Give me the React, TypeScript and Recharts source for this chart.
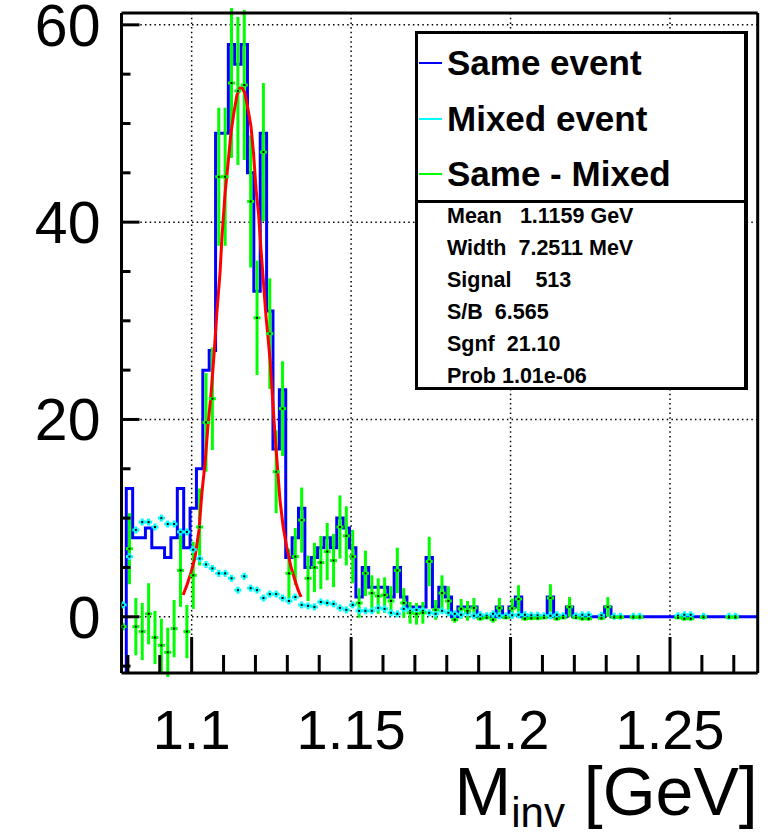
import React from 'react';
import {
  ComposedChart,
  Line,
  Scatter,
  ErrorBar,
  XAxis,
  YAxis,
  CartesianGrid,
  ReferenceLine,
  Legend,
} from 'recharts';

const FONT = '"Liberation Sans", Arial, Helvetica, sans-serif';

// axis ranges (frame of the ROOT pad)
const X_MIN = 1.078;
const X_MAX = 1.2775;
const Y_MIN = -5.7;
const Y_MAX = 61.2;

// histogram binning: 100 bins of 2 MeV
const BIN_LO = 1.0775;
const BIN_W = 0.002;

// "Same event" counts per bin
const SAME_EVENT = [
  0, 13, 8, 8, 9, 7, 7, 6, 8, 13,
  7, 11, 15, 25, 27, 49, 49, 58, 56, 58,
  45, 33, 49, 31, 17, 23, 6, 8, 11, 5,
  6, 7, 8, 7, 10, 9, 7, 2, 5, 3,
  3, 3, 2, 5, 2, 1, 1, 1, 6, 1,
  3, 2, 0, 1, 1, 1, 0, 0, 0, 1,
  0, 1, 2, 0, 0, 0, 0, 2, 0, 0,
  1, 0, 0, 0, 0, 0, 1, 0, 0, 0,
  0, 0, 0, 0, 0, 0, 0, 0, 0, 0,
  0, 0, 0, 0, 0, 0, 0, 0, 0, 0,
];

// "Mixed event" (normalised), null = empty bin
const MIXED_EVENT = [
  1.2, 6.1, 8.8, 9.6, 9.6, 9.1, 10.0, 9.4, 9.4, 8.6,
  8.6, 6.8, 5.9, 5.3, 4.9, 4.4, 4.4, 3.9, 2.7, 4.1,
  2.9, 2.7, 1.9, 2.3, 2.3, 1.9, 1.6, 2.0, 1.2, 1.1,
  1.0, 1.5, 1.4, 1.3, 0.9, 0.7, 1.2, 0.6, 0.6, 0.6,
  0.9, 0.8, 0.4, 0.3, 0.8, 0.6, 0.7, 0.6, 0.4, 0.3,
  0.6, 0.4, 0.3, 0.2, 0.4, 0.1, 0.2, 0.1, 0.3, 0.1,
  0.1, 0.15, 0.2, 0.2, 0.15, 0.15, 0.1, 0.1, 0.2, 0.1,
  null, 0.1, 0.2, 0.2, null, 0.15, null, 0.05, 0.05, null,
  0.05, 0.05, null, null, null, null, null, 0.1, 0.2, 0.2,
  null, 0.05, null, null, null, 0.05, 0.05, null, null, null,
];

// "Same - Mixed" and its errors
const SAME_MINUS_MIXED = [
  -1.0, 6.9, -1.0, -1.5, 0.3, -2.1, -2.9, -3.6, -1.2, 4.7,
  -1.5, 4.2, 9.1, 19.7, 22.1, 44.6, 44.6, 54.1, 53.3, 53.9,
  42.1, 30.3, 47.1, 28.7, 14.7, 21.1, 4.4, 6.1, 9.8, 3.9,
  5.0, 5.5, 6.6, 5.7, 9.1, 8.2, 6.1, 1.4, 4.4, 2.4,
  2.1, 2.2, 1.6, 4.7, 1.4, 0.4, 0.3, 0.4, 5.6, 0.7,
  2.4, 1.6, -0.3, 0.8, 0.6, 0.9, -0.2, -0.1, -0.3, 0.9,
  -0.1, 0.85, 1.8, -0.2, -0.15, -0.15, -0.1, 1.9, -0.2, -0.1,
  1.0, -0.1, -0.2, -0.2, null, -0.15, 1.0, -0.05, -0.05, null,
  -0.05, -0.05, null, null, null, null, null, -0.1, -0.2, -0.2,
  null, -0.05, null, null, null, -0.05, -0.05, null, null, null,
];
const SAME_MINUS_MIXED_ERR = [
  0.4, 3.6, 2.9, 2.9, 3.1, 2.7, 2.7, 2.5, 2.9, 3.7,
  2.7, 3.4, 3.9, 5.0, 5.2, 7.0, 7.0, 7.6, 7.5, 7.6,
  6.7, 5.8, 7.0, 5.6, 4.2, 4.8, 2.5, 2.9, 3.3, 2.3,
  2.5, 2.7, 2.9, 2.7, 3.2, 3.0, 2.7, 1.5, 2.3, 1.8,
  1.8, 1.8, 1.5, 2.3, 1.5, 1.1, 1.1, 1.1, 2.5, 1.0,
  1.8, 1.5, 0.3, 1.0, 1.0, 1.0, 0.2, 0.1, 0.3, 1.0,
  0.1, 1.0, 1.4, 0.2, 0.2, 0.2, 0.1, 1.4, 0.2, 0.1,
  1.0, 0.1, 0.2, 0.2, null, 0.2, 1.0, 0.05, 0.05, null,
  0.05, 0.05, null, null, null, null, null, 0.1, 0.2, 0.2,
  null, 0.05, null, null, null, 0.05, 0.05, null, null, null,
];

// fit curve
const FIT_X = [
  1.0973, 1.0985, 1.0998, 1.101, 1.1023, 1.1032, 1.1042, 1.1051, 1.1061, 1.107,
  1.1079, 1.1089, 1.1095, 1.1105, 1.1114, 1.1123, 1.1133, 1.1142, 1.1152, 1.1158,
  1.1167, 1.1177, 1.1186, 1.1194, 1.1202, 1.121, 1.1217, 1.1225, 1.1233, 1.1239,
  1.1246, 1.1252, 1.1261, 1.1269, 1.1277, 1.1287, 1.1298, 1.1311, 1.1324, 1.1334,
  1.1343,
];
const FIT_Y = [
  2.2, 3.2, 4.5, 5.9, 8.8, 12.5, 15.6, 19.3, 22.7, 26.5,
  30.8, 34.9, 38.5, 43.0, 45.9, 49.0, 51.2, 52.9, 53.6, 53.6,
  53.1, 51.4, 49.7, 47.0, 43.3, 40.8, 37.4, 34.0, 30.5, 28.5,
  26.0, 23.0, 18.6, 15.2, 11.8, 9.1, 7.1, 5.1, 3.7, 2.7,
  2.0,
];

const X_TICKS = [
  1.08, 1.09, 1.1, 1.11, 1.12, 1.13, 1.14, 1.15, 1.16, 1.17,
  1.18, 1.19, 1.2, 1.21, 1.22, 1.23, 1.24, 1.25, 1.26, 1.27,
];
const X_LABELS = [1.1, 1.15, 1.2, 1.25];
const Y_TICKS = [-5, 0, 5, 10, 15, 20, 25, 30, 35, 40, 45, 50, 55, 60];
const Y_LABELS = [0, 20, 40, 60];

const LEGEND_NAMES = ['Same event', 'Mixed event', 'Same - Mixed'];
const LEGEND_COLORS = ['#0000ff', '#00ffff', '#00ff00'];
const FIT_STATS = [
  'Mean   1.1159 GeV',
  'Width  7.2511 MeV',
  'Signal    513',
  'S/B  6.565',
  'Sgnf  21.10',
  'Prob 1.01e-06',
];

const binCenter = (i: number) => BIN_LO + (i + 0.5) * BIN_W;

// ROOT draws the outline from the frame bottom at the first filled bin
const sameSteps: { x: number; y: number }[] = [{ x: BIN_LO + BIN_W, y: Y_MIN }];
SAME_EVENT.forEach((v, i) => {
  if (i > 0) sameSteps.push({ x: BIN_LO + i * BIN_W, y: v });
});
sameSteps.push({ x: BIN_LO + SAME_EVENT.length * BIN_W, y: SAME_EVENT[SAME_EVENT.length - 1] });

const mixedPoints = MIXED_EVENT.flatMap((v, i) => (v == null ? [] : [{ x: binCenter(i), y: v }]));
const diffPoints = SAME_MINUS_MIXED.flatMap((v, i) =>
  v == null ? [] : [{ x: binCenter(i), y: v, err: SAME_MINUS_MIXED_ERR[i] }]
);
const fitPoints = FIT_X.map((x, i) => ({ x, y: FIT_Y[i] }));

function YTick({ x, y, payload }: any) {
  const major = Y_LABELS.includes(payload.value);
  return (
    <g>
      <line x1={x} x2={x + (major ? 18 : 9)} y1={y} y2={y} stroke="#000" strokeWidth={3} />
      {major && (
        <text x={x - 21} y={y + 21} textAnchor="end" fontSize={59} fill="#000">
          {payload.value}
        </text>
      )}
    </g>
  );
}

function XTick({ x, y, payload }: any) {
  const major = X_LABELS.includes(payload.value);
  return (
    <g>
      <line x1={x} x2={x} y1={y} y2={y - (major ? 36 : 18)} stroke="#000" strokeWidth={3} />
      {major && (
        <text x={x} y={y + 76} textAnchor="middle" fontSize={56} fill="#000">
          {payload.value}
        </text>
      )}
    </g>
  );
}

function AxisTitle({ viewBox }: any) {
  return (
    <text
      x={viewBox.x + viewBox.width}
      y={viewBox.y + 142}
      textAnchor="end"
      fontSize={68}
      fill="#000"
      style={{ whiteSpace: 'pre' }}
    >
      M<tspan fontSize={42} dy={12}>inv</tspan>
      <tspan dy={-12}> [GeV]</tspan>
    </text>
  );
}

// green: short horizontal bar with a black dot in the middle
const DiffMarker = ({ cx, cy }: any) => (
  <g>
    <rect x={cx - 3.5} y={cy - 1.5} width={7} height={3} fill="#00ff00" />
    <rect x={cx - 1} y={cy - 1} width={2} height={2} fill="#000" />
  </g>
);

// cyan: small cross with a black dot
const MixedMarker = ({ cx, cy }: any) => (
  <g>
    <rect x={cx - 3.5} y={cy - 1.5} width={7} height={3} fill="#00ffff" />
    <rect x={cx - 1.5} y={cy - 3.5} width={3} height={7} fill="#00ffff" />
    <rect x={cx - 1} y={cy - 1} width={2} height={2} fill="#000" />
  </g>
);

function StatsBox() {
  return (
    <div
      style={{
        position: 'relative',
        width: 333,
        height: 359,
        boxSizing: 'border-box',
        border: '3px solid #000',
        borderRightWidth: 4,
        background: '#fff',
        fontFamily: FONT,
        fontWeight: 700,
        color: '#000',
      }}
    >
      {LEGEND_NAMES.map((name, i) => (
        <div key={name} style={{ position: 'absolute', left: 0, top: 9 + i * 55.5, height: 40, width: 320 }}>
          <div style={{ position: 'absolute', left: 1, top: 19, width: 23, height: 2, background: LEGEND_COLORS[i] }} />
          <div style={{ position: 'absolute', left: 29, top: 0, lineHeight: '40px', fontSize: 35, whiteSpace: 'pre' }}>
            {name}
          </div>
        </div>
      ))}
      <div style={{ position: 'absolute', left: 0, right: 0, top: 166, height: 3, background: '#000' }} />
      {FIT_STATS.map((s, i) => (
        <div
          key={s}
          style={{
            position: 'absolute',
            left: 29,
            top: 167 + i * 32,
            lineHeight: '30px',
            fontSize: 21.5,
            whiteSpace: 'pre',
          }}
        >
          {s}
        </div>
      ))}
    </div>
  );
}

export default function App() {
  return (
    <div style={{ position: 'absolute', left: 0, top: 0, width: 770, height: 836, background: '#fff', fontFamily: FONT }}>
      <ComposedChart width={770} height={836} margin={{ top: 13, right: 12.3, bottom: 0, left: 0 }}>
        <CartesianGrid
          horizontalValues={Y_LABELS}
          verticalValues={X_LABELS}
          stroke="#000"
          strokeWidth={1.5}
          strokeDasharray="1.5 3.2"
        />
        <XAxis
          type="number"
          dataKey="x"
          domain={[X_MIN, X_MAX]}
          allowDataOverflow
          ticks={X_TICKS}
          interval={0}
          height={163}
          tickLine={false}
          tickSize={0}
          tickMargin={0}
          axisLine={{ stroke: '#000', strokeWidth: 3 }}
          tick={(p: any) => <XTick {...p} />}
          label={<AxisTitle />}
        />
        <YAxis
          type="number"
          dataKey="y"
          domain={[Y_MIN, Y_MAX]}
          allowDataOverflow
          ticks={Y_TICKS}
          interval={0}
          width={121.5}
          tickLine={false}
          tickSize={0}
          tickMargin={0}
          axisLine={{ stroke: '#000', strokeWidth: 3 }}
          tick={(p: any) => <YTick {...p} />}
        />
        <Line
          name="Same event"
          data={sameSteps}
          dataKey="y"
          type="stepAfter"
          stroke="#0000ff"
          strokeWidth={3}
          dot={false}
          isAnimationActive={false}
        />
        <Scatter
          name="Mixed event"
          data={mixedPoints}
          dataKey="y"
          fill="#00ffff"
          shape={MixedMarker}
          isAnimationActive={false}
        />
        <Scatter
          name="Same - Mixed"
          data={diffPoints}
          dataKey="y"
          fill="#00ff00"
          shape={DiffMarker}
          isAnimationActive={false}
        >
          <ErrorBar dataKey="err" direction="y" width={0} stroke="#00ff00" strokeWidth={3} isAnimationActive={false} />
        </Scatter>
        <Line
          data={fitPoints}
          dataKey="y"
          type="linear"
          stroke="#ff0000"
          strokeWidth={3}
          dot={false}
          legendType="none"
          isAnimationActive={false}
        />
        <ReferenceLine y={Y_MAX} stroke="#000" strokeWidth={3} />
        <ReferenceLine x={X_MAX} stroke="#000" strokeWidth={3} />
        <Legend
          verticalAlign="middle"
          align="center"
          layout="horizontal"
          wrapperStyle={{ left: 415, top: 31, width: 333, height: 359 }}
          content={() => <StatsBox />}
        />
      </ComposedChart>
    </div>
  );
}
